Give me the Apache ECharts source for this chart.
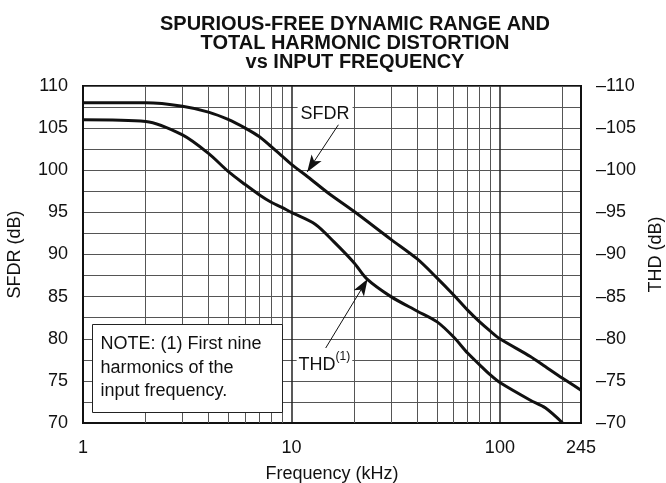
<!DOCTYPE html>
<html>
<head>
<meta charset="utf-8">
<script src="https://cdn.jsdelivr.net/npm/echarts@6/dist/echarts.min.js"></script>
<style>
  html, body { margin: 0; padding: 0; background: #fff; }
  #chart { width: 666px; height: 483px; }
</style>
</head>
<body>
<div id="chart"></div>
<script>
// values (frequency in kHz, level in dB)
var sfdrFreq = [1, 2, 3, 4, 5, 6, 7, 8, 9, 10, 12, 15, 20, 30, 40, 50, 60, 70, 80, 90, 100, 140, 165, 200, 245];
var sfdrDb = [108, 108, 107.6, 106.9, 106, 105, 104, 102.8, 101.7, 100.7, 99.2, 97.3, 95.1, 91.8, 89.5, 87.2, 85.2, 83.4, 82.0, 80.9, 80.0, 77.9, 76.7, 75.3, 73.9];

var thdFreq = [1, 2, 3, 4, 5, 6, 7, 8, 9, 10, 13, 16, 20, 23, 30, 40, 50, 60, 70, 80, 90, 100, 140, 165, 200];
var thdDb = [106, 105.8, 104.2, 102.0, 99.8, 98.3, 97.1, 96.2, 95.6, 95.0, 93.6, 91.5, 89.0, 87.1, 85.0, 83.3, 82.0, 80.2, 78.3, 76.9, 75.7, 74.8, 72.7, 71.8, 70.0];

// log grid lines between the decades
var minorFreq = [2, 3, 4, 5, 6, 7, 8, 9, 20, 30, 40, 50, 60, 70, 80, 90, 200];

var titleLines = ['SPURIOUS-FREE DYNAMIC RANGE AND', 'TOTAL HARMONIC DISTORTION', 'vs INPUT FREQUENCY'];
var noteLines = ['NOTE: (1) First nine', 'harmonics of the', 'input frequency.'];

var FONT = '"Liberation Sans", Arial, Helvetica, sans-serif';

function zip(xs, ys) {
    return xs.map(function (x, i) { return [x, ys[i]]; });
}

var myChart = echarts.init(document.getElementById('chart'), null, { renderer: 'canvas' });

var option = {
    animation: false,
    backgroundColor: '#fff',
    textStyle: { fontFamily: FONT, color: '#111' },
    title: {
        text: titleLines.join('\n'),
        left: 350,
        top: 10,
        textAlign: 'center',
        textStyle: { fontFamily: FONT, fontSize: 20, fontWeight: 'bold', lineHeight: 19, color: '#111' }
    },
    grid: {
        left: 83, right: 85, top: 86, bottom: 60,
        outerBoundsMode: 'none',
        containLabel: false,
        show: true, borderColor: '#111', borderWidth: 2, backgroundColor: 'transparent'
    },
    xAxis: {
        type: 'log',
        logBase: 10,
        min: 1,
        max: 245,
        name: 'Frequency (kHz)',
        nameLocation: 'middle',
        nameGap: 42,
        nameTextStyle: { fontFamily: FONT, fontSize: 18, color: '#111' },
        axisLine: { show: true, lineStyle: { color: '#111', width: 2 } },
        axisTick: { show: false },
        axisLabel: {
            fontFamily: FONT, fontSize: 18, color: '#111', margin: 16,
            formatter: function (v) { return String(Math.round(v)); }
        },
        splitLine: { show: true, lineStyle: { color: '#222', width: 1.5 } }
    },
    yAxis: [{
        type: 'value',
        min: 70, max: 110, interval: 5,
        name: 'SFDR (dB)',
        nameLocation: 'middle',
        nameGap: 59,
        nameTextStyle: { fontFamily: FONT, fontSize: 18, color: '#111' },
        axisLine: { show: true, lineStyle: { color: '#111', width: 2 } },
        axisTick: { show: false },
        axisLabel: { fontFamily: FONT, fontSize: 18, color: '#111', margin: 15 },
        splitLine: { show: true, lineStyle: { color: '#555', width: 1 } },
        minorTick: { show: false, splitNumber: 2 },
        minorSplitLine: { show: true, lineStyle: { color: '#555', width: 1 } }
    }, {
        type: 'value',
        position: 'right',
        min: -110, max: -70, interval: 5,
        inverse: true,
        name: 'THD (dB)',
        nameLocation: 'middle',
        nameGap: 60,
        nameRotate: 90,
        nameTextStyle: { fontFamily: FONT, fontSize: 18, color: '#111' },
        axisLine: { show: true, lineStyle: { color: '#111', width: 2 } },
        axisTick: { show: false },
        axisLabel: {
            fontFamily: FONT, fontSize: 18, color: '#111', margin: 15,
            formatter: function (v) { return '\u2013' + Math.abs(v); }
        },
        splitLine: { show: false }
    }],
    series: [{
        name: 'SFDR',
        type: 'line',
        yAxisIndex: 0,
        data: zip(sfdrFreq, sfdrDb),
        showSymbol: false,
        smooth: 0.3,
        lineStyle: { color: '#111', width: 3 },
        z: 5,
        markLine: {
            silent: true,
            symbol: 'none',
            label: { show: false },
            lineStyle: { color: '#555', width: 1, type: 'solid' },
            z: 1,
            data: minorFreq.map(function (f) { return { xAxis: f }; })
        },
        markPoint: {
            silent: true,
            symbol: 'rect',
            symbolSize: 0,
            data: [{
                coord: [14.5, 106.7],
                label: {
                    show: true, position: 'inside', formatter: 'SFDR',
                    fontFamily: FONT, fontSize: 18, color: '#111',
                    backgroundColor: '#fff', padding: [2, 3, 0, 3]
                }
            }]
        }
    }, {
        name: 'THD',
        type: 'line',
        yAxisIndex: 0,
        data: zip(thdFreq, thdDb),
        showSymbol: false,
        smooth: 0.3,
        lineStyle: { color: '#111', width: 3 },
        z: 5,
        markLine: {
            silent: true,
            label: { show: false },
            lineStyle: { color: '#111', width: 1, type: 'solid' },
            symbolSize: [9, 17],
            data: [
                [{ coord: [16.8, 105.4], symbol: 'none' }, { coord: [11.9, 99.8], symbol: 'arrow' }],
                [{ coord: [14.6, 78.9], symbol: 'none' }, { coord: [23.2, 87.1], symbol: 'arrow' }]
            ]
        },
        markPoint: {
            silent: true,
            symbol: 'rect',
            symbolSize: 0,
            data: [{
                coord: [14.4, 77.3],
                label: {
                    show: true, position: 'inside',
                    formatter: '{a|THD}{b|(1)}',
                    backgroundColor: '#fff', padding: [2, 2, 0, 2],
                    rich: {
                        a: { fontFamily: FONT, fontSize: 18, color: '#111', lineHeight: 24, verticalAlign: 'bottom' },
                        b: { fontFamily: FONT, fontSize: 12, color: '#111', lineHeight: 24, verticalAlign: 'top' }
                    }
                }
            }]
        }
    }],
    graphic: [{
        type: 'group',
        left: 92,
        top: 324,
        z: 100,
        children: [{
            type: 'rect',
            z: 100,
            shape: { x: 0, y: 0, width: 190, height: 88 },
            style: { fill: '#fff', stroke: '#222', lineWidth: 1 }
        }, {
            type: 'text',
            z: 101,
            x: 8,
            y: 8,
            style: {
                text: noteLines.join('\n'),
                font: '18px ' + FONT,
                lineHeight: 23.5,
                fill: '#111'
            }
        }]
    }]
};

myChart.setOption(option);
</script>
</body>
</html>
